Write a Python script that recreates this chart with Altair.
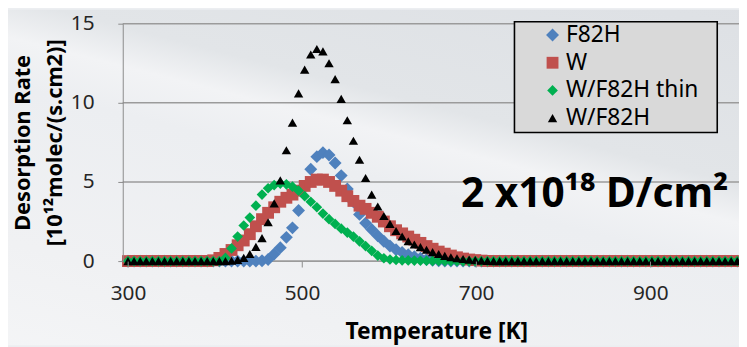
import altair as alt
import pandas as pd

# Temperature grid (K), one sample every 7 K (300 ... 1000)
temperature = list(range(300, 1001, 7))

series_names = ["F82H", "W", "W/F82H thin", "W/F82H"]
series_colors = ["#4f81bd", "#c0504d", "#00b050", "#000000"]
series_shapes = ["diamond", "square", "diamond", "triangle-up"]
series_sizes = [170, 90, 160, 210]

# Desorption rate [1e12 molec/(s.cm2)]
f82h = [0, 0, 0, 0, 0, 0, 0, 0, 0, 0, 0, 0, 0, 0, 0, 0, 0, 0, 0, 0, 0, 0,
        0.02, 0.1, 0.45, 0.85, 1.5, 2.1, 3.2, 4.7, 5.8, 6.6, 6.85, 6.7, 6.2, 5.4,
        4.55, 3.75, 2.95, 2.4, 2.0, 1.6, 1.25, 0.95, 0.72, 0.55, 0.4, 0.28, 0.18,
        0.1, 0.05, 0.02,
        0, 0, 0, 0, 0, 0, 0, 0, 0, 0, 0, 0, 0, 0, 0, 0, 0, 0, 0, 0, 0, 0, 0, 0,
        0, 0, 0, 0, 0, 0, 0, 0, 0, 0, 0, 0, 0, 0, 0, 0, 0, 0, 0, 0, 0, 0, 0, 0, 0]
w = [0, 0, 0, 0, 0, 0, 0, 0, 0, 0, 0, 0, 0, 0,
     0.05, 0.2, 0.45, 0.7, 1.0, 1.3, 1.7, 2.2, 2.65, 3.05, 3.4, 3.75, 4.0, 4.2,
     4.45, 4.75, 5.0, 5.15, 5.15, 5.0, 4.75, 4.45, 4.1, 3.8, 3.5, 3.3, 3.05, 2.8,
     2.5, 2.2, 1.95, 1.75, 1.55, 1.35, 1.15, 0.95, 0.78, 0.6, 0.47, 0.35, 0.24,
     0.16, 0.1, 0.06, 0.03, 0.01,
     0, 0, 0, 0, 0, 0, 0, 0, 0, 0, 0, 0, 0, 0, 0, 0, 0, 0, 0, 0,
     0, 0, 0, 0, 0, 0, 0, 0, 0, 0, 0, 0, 0, 0, 0, 0, 0, 0, 0, 0, 0]
w_f82h_thin = [0, 0, 0, 0, 0, 0, 0, 0, 0, 0, 0, 0, 0, 0, 0, 0,
               0.2, 0.8, 1.55, 2.25, 2.75, 3.5, 4.2, 4.6, 4.8, 4.9, 4.85, 4.7,
               4.45, 4.1, 3.75, 3.4, 3.0, 2.65, 2.35, 2.05, 1.8, 1.55, 1.25, 0.95,
               0.65, 0.35, 0.18, 0.1, 0.07, 0.05, 0.04, 0.03, 0.02, 0.02, 0.01, 0.01,
               0, 0, 0, 0, 0, 0, 0, 0, 0, 0, 0, 0, 0, 0, 0, 0, 0, 0, 0, 0, 0, 0, 0, 0,
               0, 0, 0, 0, 0, 0, 0, 0, 0, 0, 0, 0, 0, 0, 0, 0, 0, 0, 0, 0, 0, 0, 0, 0, 0]
w_f82h = [0, 0, 0, 0, 0, 0, 0, 0, 0, 0, 0, 0, 0, 0, 0, 0, 0,
          0.02, 0.08, 0.2, 0.45, 0.9, 1.45, 2.45, 3.65, 5.1, 7.0, 8.75, 10.6, 12.1,
          13.05, 13.4, 13.25, 12.5, 11.5, 10.25, 8.9, 7.6, 6.4, 5.25, 4.2, 3.45,
          2.85, 2.35, 1.9, 1.55, 1.25, 1.05, 0.88, 0.72, 0.57, 0.45, 0.33, 0.24,
          0.18, 0.13, 0.09, 0.06, 0.03, 0.01,
          0, 0, 0, 0, 0, 0, 0, 0, 0, 0, 0, 0, 0, 0, 0, 0, 0, 0, 0, 0,
          0, 0, 0, 0, 0, 0, 0, 0, 0, 0, 0, 0, 0, 0, 0, 0, 0, 0, 0, 0, 0]

x_ticks = [300, 500, 700, 900]
y_ticks = [0, 5, 10, 15]
x_title = "Temperature [K]"
y_title = ["Desorption Rate", "[10¹²molec/(s.cm2)]"]
annotation = "2 x10¹⁸ D/cm²"

rows = []
for name, vals in zip(series_names, [f82h, w, w_f82h_thin, w_f82h]):
    for t, v in zip(temperature, vals):
        rows.append({"T": t, "rate": v, "series": name})
df = pd.DataFrame(rows)

FONT = "Noto Sans"
W, H = 623, 240
PAD = {"left": 116, "top": 14, "right": 0, "bottom": 85}

bg = alt.Chart(pd.DataFrame({"a": [0]})).mark_rect(
    fill=alt.LinearGradient(
        gradient="linear",
        x1=0, y1=1.4, x2=1, y2=-0.4,
        stops=[
            alt.GradientStop(offset=0, color="#f8f9fa"),
            alt.GradientStop(offset=0.3, color="#f0f1f3"),
            alt.GradientStop(offset=0.5, color="#eceef1"),
            alt.GradientStop(offset=0.56, color="#f2f3f5"),
            alt.GradientStop(offset=0.61, color="#e2e5e8"),
            alt.GradientStop(offset=1, color="#dadde2"),
        ],
    )
).encode(
    x=alt.value(-PAD["left"]), x2=alt.value(W + PAD["right"]),
    y=alt.value(-PAD["top"]), y2=alt.value(H + PAD["bottom"])
)

grid = alt.Chart(pd.DataFrame({"rate": y_ticks})).mark_rule(
    color="#9b9b9b", strokeWidth=1.6
).encode(y=alt.Y("rate:Q"))

points = alt.Chart(df).mark_point(filled=True, opacity=1, strokeWidth=0).encode(
    x=alt.X("T:Q",
            scale=alt.Scale(domain=[294, 1002], nice=False, zero=False),
            axis=alt.Axis(values=x_ticks, title=x_title, grid=False, domain=False,
                          zindex=1,
                          labelFontSize=21, labelPadding=16, labelColor="#262626",
                          tickSize=6, tickColor="#8c8c8c",
                          titleFontSize=23, titleFontWeight="bold", titleColor="black",
                          titleX=317, titleY=78, titleBaseline="alphabetic")),
    y=alt.Y("rate:Q",
            scale=alt.Scale(domain=[0, 15], nice=False),
            axis=alt.Axis(values=y_ticks, title=y_title, grid=False, zindex=1,
                          labelFontSize=21, labelPadding=24, labelColor="#262626",
                          tickSize=5, tickColor="#8c8c8c", domainColor="#8c8c8c",
                          titleFontSize=22, titleFontWeight="bold", titleColor="black",
                          titleLineHeight=32, titleAngle=270, titleX=-101, titleY=120,
                          titleBaseline="middle", titleAlign="center")),
    color=alt.Color("series:N",
                    scale=alt.Scale(domain=series_names, range=series_colors),
                    legend=alt.Legend(title=None, orient="none", legendX=401, legendY=-2,
                                      padding=2, rowPadding=4, symbolOffset=20,
                                      labelOffset=2, labelFontSize=23, labelColor="black")),
    shape=alt.Shape("series:N", scale=alt.Scale(domain=series_names, range=series_shapes)),
    size=alt.Size("series:N", scale=alt.Scale(domain=series_names, range=series_sizes)),
)

# grey box behind the legend entries
legend_box = alt.Chart(pd.DataFrame({"a": [0]})).mark_rect(
    fill="#d9d9d9", stroke="black", strokeWidth=1.6
).encode(x=alt.value(396), x2=alt.value(601), y=alt.value(-2), y2=alt.value(110))

text = alt.Chart(pd.DataFrame({"label": [annotation]})).mark_text(
    align="left", baseline="alphabetic", fontSize=41, fontWeight="bold", color="black"
).encode(x=alt.value(342), y=alt.value(185), text="label:N")

chart = alt.layer(bg, grid, points, legend_box, text).properties(
    width=W, height=H,
    autosize=alt.AutoSizeParams(type="none"),
    padding=PAD,
    background="#eceef1",
).configure(font=FONT).configure_view(strokeWidth=0)

chart.save("out.html", embed_options={"renderer": "svg", "actions": False})
